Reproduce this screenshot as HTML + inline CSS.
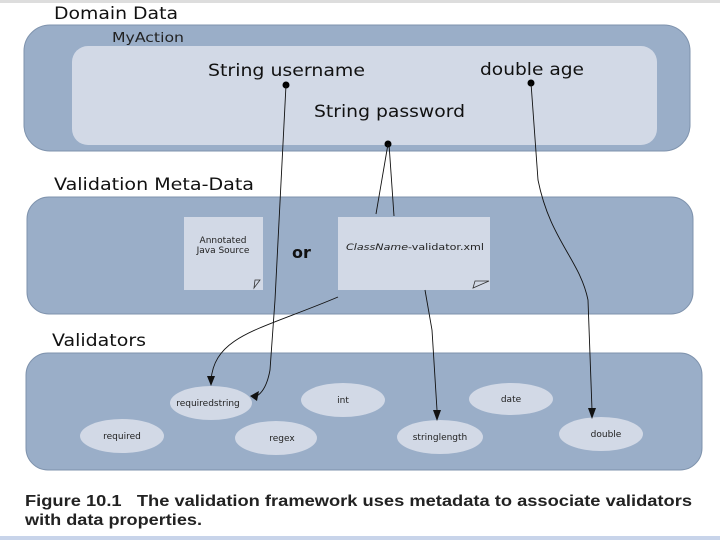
<!DOCTYPE html>
<html><head><style>
body{margin:0;background:#fff;width:720px;height:540px;overflow:hidden;font-family:"DejaVu Sans","Liberation Sans",sans-serif}
</style></head><body>
<svg width="720" height="540" xmlns="http://www.w3.org/2000/svg" font-family="DejaVu Sans, Liberation Sans, sans-serif">
<rect x="0" y="0" width="720" height="3" fill="#ddd"/>
<rect x="0" y="536" width="720" height="4" fill="#c8d4ea"/>
<text x="54" y="19" font-size="17" fill="#111" textLength="124" lengthAdjust="spacingAndGlyphs">Domain Data</text>
<rect x="24" y="25" width="666" height="126" rx="26" fill="#9aaec8" stroke="#7f93ad"/>
<text x="112" y="42" font-size="13" fill="#222" textLength="72" lengthAdjust="spacingAndGlyphs">MyAction</text>
<rect x="72" y="46" width="585" height="99" rx="16" fill="#d2d9e6"/>
<text x="208" y="76" font-size="17" fill="#111" textLength="157" lengthAdjust="spacingAndGlyphs">String username</text>
<text x="480" y="75" font-size="17" fill="#111" textLength="104" lengthAdjust="spacingAndGlyphs">double age</text>
<text x="314" y="117" font-size="17" fill="#111" textLength="151" lengthAdjust="spacingAndGlyphs">String password</text>
<text x="54" y="190" font-size="17" fill="#111" textLength="200" lengthAdjust="spacingAndGlyphs">Validation Meta-Data</text>
<rect x="27" y="197" width="666" height="117" rx="22" fill="#9aaec8" stroke="#7f93ad"/>
<rect x="184" y="217" width="79" height="73" fill="#d2d9e6"/>
<path d="M255 280 L260 280 L254 288 Z" fill="none" stroke="#333" stroke-width="0.8"/>
<text x="223" y="243" font-size="9" text-anchor="middle" fill="#222">Annotated</text>
<text x="223" y="253" font-size="9" text-anchor="middle" fill="#222">Java Source</text>
<text x="292" y="258" font-size="16" font-weight="bold" fill="#111">or</text>
<rect x="338" y="217" width="152" height="73" fill="#d2d9e6"/>
<path d="M475 281 L489 281 L473 288 Z" fill="none" stroke="#333" stroke-width="0.8"/>
<text x="346" y="250" font-size="9" fill="#222" textLength="138" lengthAdjust="spacingAndGlyphs"><tspan font-style="italic">ClassName</tspan>-validator.xml</text>
<text x="52" y="346" font-size="17" fill="#111" textLength="94" lengthAdjust="spacingAndGlyphs">Validators</text>
<rect x="26" y="353" width="676" height="117" rx="22" fill="#9aaec8" stroke="#7f93ad"/>
<g fill="#d2d9e6">
<ellipse cx="211" cy="403" rx="41" ry="17"/><ellipse cx="343" cy="400" rx="42" ry="17"/>
<ellipse cx="511" cy="399" rx="42" ry="16"/><ellipse cx="122" cy="436" rx="42" ry="17"/>
<ellipse cx="276" cy="438" rx="41" ry="17"/><ellipse cx="440" cy="437" rx="43" ry="17"/>
<ellipse cx="601" cy="434" rx="42" ry="17"/></g>
<g font-size="9" fill="#222" text-anchor="middle">
<text x="208" y="406">requiredstring</text><text x="343" y="403">int</text>
<text x="511" y="402">date</text><text x="122" y="439">required</text>
<text x="282" y="441">regex</text><text x="440" y="440">stringlength</text>
<text x="606" y="437">double</text></g>
<g fill="#000"><circle cx="286" cy="85" r="3.5"/><circle cx="388" cy="144" r="3.5"/><circle cx="531" cy="83" r="3.5"/></g>
<g fill="none" stroke="#111" stroke-width="0.9">
<path d="M286 85 L275 300 L270 370 Q266 392 255 397"/>
<path d="M388 144 L376 214 M389 144 L394 216"/>
<path d="M338 297 C260 330 215 335 211 380"/>
<path d="M425 290 L432 330 L437 410"/>
<path d="M531 83 L538 180 C550 240 580 260 588 300 L592 410"/>
</g>
<g fill="#111">
<path d="M207 376 L215 376 L211 386 Z"/>
<path d="M250 396 L259 391 L257 401 Z"/>
<path d="M433 410 L441 410 L437 421 Z"/>
<path d="M588 408 L596 408 L592 419 Z"/>
</g>
<text x="25" y="506" font-size="16" font-weight="bold" font-family="Liberation Sans, sans-serif" fill="#222" textLength="667" lengthAdjust="spacingAndGlyphs">Figure 10.1 &#160;&#160;The validation framework uses metadata to associate validators</text>
<text x="25" y="525" font-size="16" font-weight="bold" font-family="Liberation Sans, sans-serif" fill="#222" textLength="177" lengthAdjust="spacingAndGlyphs">with data properties.</text>
</svg>
</body></html>
